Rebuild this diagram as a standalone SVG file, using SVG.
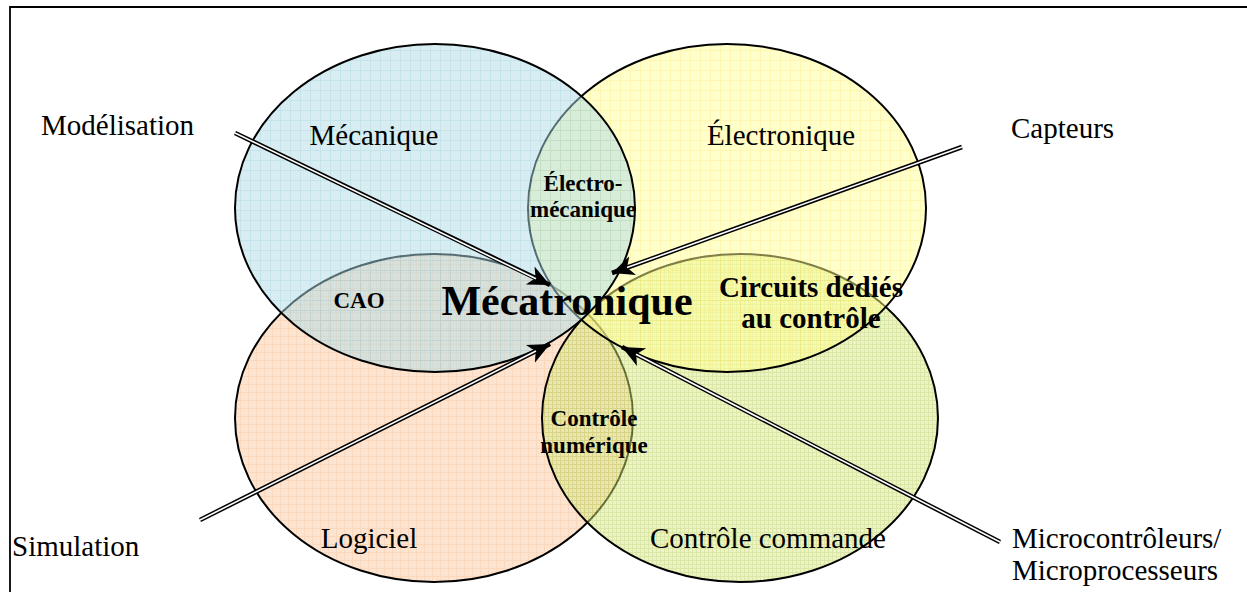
<svg xmlns="http://www.w3.org/2000/svg" width="1247" height="592" viewBox="0 0 1247 592">
<style>
.t{font-family:"Liberation Serif","Times New Roman",serif;font-size:29px;fill:#000}
.b{font-family:"Liberation Serif","Times New Roman",serif;font-size:23px;font-weight:bold;fill:#000}
.c{font-family:"Liberation Serif","Times New Roman",serif;font-size:29px;font-weight:bold;fill:#000}
.big{font-family:"Liberation Serif","Times New Roman",serif;font-size:42px;font-weight:bold;fill:#000}
.m{text-anchor:middle}
.e{stroke:#000;stroke-width:2;fill-opacity:0.5}
.dl{fill:none;stroke:#000;stroke-width:4.6}
.dw{fill:none;stroke:#fff;stroke-width:1.6}
</style>
<defs>
<pattern id="pB" width="10" height="10" patternUnits="userSpaceOnUse"><rect width="10" height="10" fill="#B2DCE6"/><path d="M0 0.5H10M0.5 0V10" stroke="#8CC8D6" stroke-width="1"/></pattern>
<pattern id="pY" width="10" height="10" patternUnits="userSpaceOnUse"><rect width="10" height="10" fill="#FFFF99"/><path d="M0 0.5H10M0.5 0V10" stroke="#FFEE66" stroke-width="1"/></pattern>
<pattern id="pO" width="8" height="8" patternUnits="userSpaceOnUse"><rect width="8" height="8" fill="#FBC9A1"/><path d="M0 0.5H8M0.5 0V8" stroke="#F7B07A" stroke-width="1"/></pattern>
<pattern id="pG" width="4" height="4" patternUnits="userSpaceOnUse"><rect width="4" height="4" fill="#D9EA8C"/><path d="M0 0.5H4M0.5 0V4" stroke="#B5D04E" stroke-width="1"/></pattern>
<marker id="ah" markerUnits="userSpaceOnUse" markerWidth="24" markerHeight="22" refX="22" refY="10" orient="auto" viewBox="0 0 24 22"><path d="M0,0 L22,10 L0,20 L6,10 z" fill="#000"/></marker>
</defs>
<path d="M10,592 V7 H1247" fill="none" stroke="#000" stroke-width="1.8"/>
<g id="logiciel"><ellipse class="e" cx="434" cy="418" rx="199" ry="164" fill="url(#pO)"/></g>
<g id="controle-commande"><ellipse class="e" cx="740" cy="418" rx="198" ry="164" fill="url(#pG)"/></g>
<g id="electronique"><ellipse class="e" cx="727" cy="208" rx="199" ry="164" fill="url(#pY)"/></g>
<g id="mecanique"><ellipse class="e" cx="435" cy="208" rx="200" ry="164" fill="url(#pB)"/></g>
<g id="connectors">
<path class="dl" d="M235,133 L550,285" marker-end="url(#ah)"/>
<path class="dw" d="M235,133 L536,278.7"/>
<path class="dl" d="M962,147 L612,273" marker-end="url(#ah)"/>
<path class="dw" d="M962,147 L627,267.6"/>
<path class="dl" d="M200,520 L550,344" marker-end="url(#ah)"/>
<path class="dw" d="M200,520 L536,351"/>
<path class="dl" d="M1000,542 L622,347" marker-end="url(#ah)"/>
<path class="dw" d="M1000,542 L636,354.2"/>
</g>
<g id="labels">
<text class="t" x="41" y="135">Modélisation</text>
<text class="t m" x="374" y="145">Mécanique</text>
<text class="t m" x="781" y="145">Électronique</text>
<text class="t" x="1011" y="138">Capteurs</text>
<text class="b m" x="583" y="191">Électro-</text>
<text class="b m" x="583" y="217">mécanique</text>
<text class="b m" x="359" y="308">CAO</text>
<text class="big m" x="567" y="315">Mécatronique</text>
<text class="c m" x="811" y="297">Circuits dédiés</text>
<text class="c m" x="811" y="328">au contrôle</text>
<text class="b m" x="594" y="426">Contrôle</text>
<text class="b m" x="594" y="453">numérique</text>
<text class="t" x="12" y="556">Simulation</text>
<text class="t m" x="369" y="548">Logiciel</text>
<text class="t m" x="768" y="548">Contrôle commande</text>
<text class="t" x="1012" y="548">Microcontrôleurs/</text>
<text class="t" x="1012" y="580">Microprocesseurs</text>
</g>
</svg>
